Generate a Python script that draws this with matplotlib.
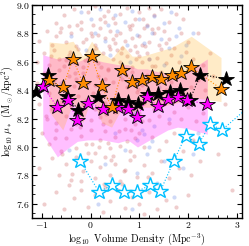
import numpy as np
import matplotlib
matplotlib.use("Agg")
import matplotlib.pyplot as plt
from matplotlib.ticker import MultipleLocator

plt.rcParams['font.family'] = 'serif'
plt.rcParams['font.serif'] = ['cmr10']
plt.rcParams['mathtext.fontset'] = 'cm'
plt.rcParams['axes.formatter.use_mathtext'] = True
plt.rcParams['axes.unicode_minus'] = False
plt.rcParams['font.size'] = 7.5

# 背景散点
red_x = [-0.55, -0.35, -0.2, -0.05, 0.1, 0.2, 0.35, 0.5, 0.6, 0.75, 0.9, 1.0, 1.15, 1.3, 1.45, 1.6, 1.75, 1.9, 0.05, 0.45, 0.85, 1.2, -0.7, 0.3,
         -1.05, -0.9, -0.8, -0.7, -0.6, -0.5, -0.4, -0.3, -0.2, -0.1, 0.0, 0.1, 0.2, 0.3, 0.4, 0.5, 0.6, 0.7, 0.8, 0.9, 1.0, 1.1, 1.2, 1.3, 1.4, 1.5, 1.6, 1.7, 1.85, 2.0, 2.2, -0.45, 0.15, 0.65, 1.05, -0.15, 0.45, 0.85, 1.25, 1.55,
         -1.1, -0.95, -0.85, -0.75, -0.65, -0.55, -0.45, -0.35, -0.25, -0.15, -0.05, 0.05, 0.15, 0.25, 0.35, 0.45, 0.55, 0.65, 0.75, 0.85, 0.95, 1.05, 1.15, 1.25, 1.35, 1.45, 1.55, 1.65, 1.8, 1.95, 2.1, 2.3, 2.45, 0.1, 0.6, 1.0, -0.5, 0.4, 0.8, 1.2,
         -1.1, -0.95, -0.85, -0.75, -0.65, -0.55, -0.45, -0.35, -0.25, -0.15, -0.05, 0.05, 0.15, 0.25, 0.35, 0.45, 0.55, 0.65, 0.75, 0.85, 0.95, 1.05, 1.15, 1.25, 1.35, 1.45, 1.55, 1.65, 1.75, 1.9, 2.05, 2.2, 2.35, 0.3, 0.7, 1.1, -0.3, 0.9,
         -1.05, -0.9, -0.8, -0.7, -0.6, -0.5, -0.4, -0.3, -0.2, -0.1, 0.0, 0.1, 0.2, 0.3, 0.4, 0.5, 0.6, 0.7, 0.8, 0.9, 1.0, 1.1, 1.2, 1.3, 1.4, 1.5, 1.6, 1.7, 1.85, 2.0, 2.15, 2.3, 0.25, 0.65, 1.05, -0.15,
         -1.0, -0.85, -0.7, -0.6, -0.5, -0.4, -0.3, -0.2, -0.1, 0.0, 0.1, 0.2, 0.3, 0.4, 0.5, 0.6, 0.7, 0.8, 0.9, 1.0, 1.1, 1.25, 1.4, 1.55, 1.7, 1.9, 2.1, 0.35, -0.05, 0.75,
         -1.05, -0.8, -0.65, -0.5, -0.4, -0.3, -0.15, 0.0, 0.1, 0.2, 0.3, 0.4, 0.5, 0.6, 0.7, 0.8, 0.95, 1.1, 1.25, 1.45, 1.6, 1.8, 2.05, 2.25, -0.2, 0.45,
         -0.95, -0.7, -0.55, -0.35, -0.2, -0.05, 0.1, 0.25, 0.4, 0.55, 0.7, 0.85, 1.0, 1.2, 1.35, 1.55, 1.75, 2.0, 0.3, -0.45, 0.65, 1.1,
         2.5, 2.6, 2.75, 2.9,
         -0.62, -0.28, 0.02, 0.27, 0.52, 0.78, 1.08, 1.38, -0.42, 0.12, 0.62, 1.12, -0.82, -0.12, 0.38, 0.92, -0.32, 0.22, 0.72, 1.32,
         -0.52, 0.08, 0.48, 0.98, -0.92, -0.22, 0.32, 0.82, 1.42, -0.72, 0.18, 0.58, -0.58, 0.02, 0.42, 0.88, -0.38, 0.28, 0.68, 1.18]
red_y = [8.93, 8.97, 8.88, 8.95, 8.99, 8.9, 8.96, 8.87, 8.94, 8.98, 8.9, 8.95, 8.86, 8.93, 8.97, 8.88, 8.94, 8.9, 8.86, 8.91, 8.86, 8.98, 8.87, 8.88,
         8.75, 8.82, 8.72, 8.78, 8.84, 8.74, 8.8, 8.71, 8.83, 8.76, 8.8, 8.72, 8.84, 8.77, 8.82, 8.73, 8.8, 8.75, 8.83, 8.71, 8.78, 8.84, 8.74, 8.8, 8.72, 8.82, 8.76, 8.7, 8.8, 8.74, 8.8, 8.85, 8.79, 8.7, 8.72, 8.74, 8.76, 8.77, 8.83, 8.73,
         8.6, 8.66, 8.58, 8.68, 8.62, 8.57, 8.65, 8.6, 8.69, 8.56, 8.63, 8.68, 8.59, 8.66, 8.55, 8.62, 8.68, 8.58, 8.64, 8.56, 8.67, 8.6, 8.66, 8.57, 8.63, 8.69, 8.59, 8.65, 8.6, 8.67, 8.62, 8.58, 8.66, 8.61, 8.6, 8.64, 8.61, 8.69, 8.68, 8.62,
         8.45, 8.52, 8.38, 8.47, 8.54, 8.4, 8.5, 8.43, 8.36, 8.52, 8.45, 8.38, 8.5, 8.41, 8.54, 8.46, 8.37, 8.48, 8.42, 8.53, 8.39, 8.44, 8.51, 8.37, 8.45, 8.53, 8.4, 8.46, 8.36, 8.5, 8.42, 8.47, 8.4, 8.48, 8.55, 8.36, 8.48, 8.47,
         8.3, 8.2, 8.27, 8.17, 8.32, 8.22, 8.29, 8.16, 8.25, 8.33, 8.19, 8.27, 8.21, 8.31, 8.18, 8.25, 8.32, 8.2, 8.28, 8.16, 8.24, 8.31, 8.19, 8.27, 8.22, 8.3, 8.17, 8.25, 8.2, 8.28, 8.18, 8.24, 8.16, 8.26, 8.18, 8.3,
         8.1, 8.02, 8.12, 7.97, 8.06, 8.13, 7.99, 8.08, 8.02, 8.12, 7.96, 8.05, 8.11, 7.99, 8.07, 8.01, 8.13, 7.97, 8.06, 8.1, 8.0, 8.07, 7.98, 8.04, 8.1, 7.97, 8.05, 8.03, 7.96, 8.04,
         7.85, 7.92, 7.8, 7.88, 7.77, 7.93, 7.83, 7.9, 7.78, 7.86, 7.93, 7.8, 7.88, 7.76, 7.84, 7.91, 7.79, 7.87, 7.82, 7.9, 7.78, 7.85, 7.8, 7.9, 7.76, 7.94,
         7.6, 7.68, 7.56, 7.64, 7.7, 7.58, 7.66, 7.54, 7.62, 7.7, 7.57, 7.65, 7.6, 7.68, 7.56, 7.63, 7.58, 7.66, 7.72, 7.73, 7.74, 7.53,
         8.5, 7.95, 8.3, 7.7,
         8.81, 8.86, 8.78, 8.92, 8.79, 8.85, 8.9, 8.84, 8.67, 8.7, 8.66, 8.71, 8.64, 8.61, 8.71, 8.62, 8.52, 8.56, 8.51, 8.57,
         8.34, 8.44, 8.33, 8.41, 8.22, 8.14, 8.23, 8.12, 8.34, 8.06, 8.0, 8.11, 7.95, 8.02, 7.91, 7.94, 7.81, 7.74, 7.83, 7.79]

blue_x = [-0.2, 0.0, 0.2, 0.35, 0.5, 0.7, 0.85, 1.0, 1.15, 1.3, 1.5, 1.65, 1.8, 0.1, 0.3, 0.55, 0.75, 0.95, 1.1, 1.25, 1.45, 1.6, 1.75, 1.95, 2.1,
          -0.4, -0.1, 0.4, 0.8, 1.2, 1.5, 1.85, 0.6, 1.0, 1.4, 0.2, 0.9, 1.3, 0.5, 1.6, 0.7, 1.15, 1.5, 0.3, 0.95, 1.35, 0.55, 1.7, 1.9, 2.1,
          -0.3, -0.6, 0.15, 0.85, 2.2, -0.45, 0.95, 1.05, 1.2, 1.1, 1.25]
blue_y = [8.95, 8.9, 8.97, 8.86, 8.93, 8.88, 8.96, 8.9, 8.85, 8.92, 8.87, 8.95, 8.84, 8.8, 8.75, 8.82, 8.72, 8.79, 8.73, 8.8, 8.76, 8.7, 8.78, 8.72, 8.8,
          8.78, 8.68, 8.65, 8.6, 8.62, 8.58, 8.64, 8.5, 8.45, 8.42, 8.35, 8.25, 8.15, 8.1, 8.2, 7.98, 7.95, 7.9, 7.88, 7.82, 7.75, 7.7, 7.65, 7.85, 7.95,
          8.2, 8.45, 7.6, 7.56, 8.1, 7.98, 8.05, 8.12, 8.0, 8.09, 8.04]

# 黑色星号
black_x = [-1.12, -0.88, -0.48, -0.25, 0.16, 0.56, 0.77, 0.98, 1.18, 1.38, 1.62, 1.83, 2.03, 2.25, 2.78]
black_y = [8.39, 8.51, 8.36, 8.26, 8.35, 8.33, 8.32, 8.30, 8.37, 8.37, 8.39, 8.40, 8.33, 8.51, 8.48]

# 橙色星号及其范围
orange_x = [-0.85, -0.57, -0.36, -0.16, 0.02, 0.23, 0.43, 0.65, 0.85, 1.05, 1.26, 1.45, 1.66, 1.86, 2.06, 2.67]
orange_y = [8.47, 8.42, 8.62, 8.45, 8.64, 8.43, 8.28, 8.54, 8.46, 8.47, 8.49, 8.48, 8.51, 8.52, 8.56, 8.41]
orange_hi = [8.74, 8.73, 8.745, 8.64, 8.745, 8.66, 8.62, 8.72, 8.64, 8.64, 8.66, 8.68, 8.70, 8.74, 8.78, 8.63]
orange_lo = [8.25, 8.12, 8.31, 8.17, 8.35, 8.17, 8.14, 8.28, 8.24, 8.28, 8.28, 8.29, 8.30, 8.32, 8.35, 8.32]

# 品红星号及其范围
mag_x = [-0.98, -0.68, -0.47, -0.27, -0.06, 0.25, 0.56, 0.76, 0.96, 1.16, 1.37, 1.58, 1.78, 1.98, 2.39]
mag_y = [8.43, 8.28, 8.33, 8.19, 8.31, 8.27, 8.28, 8.27, 8.21, 8.35, 8.29, 8.34, 8.35, 8.33, 8.30]
mag_hi = [8.65, 8.62, 8.64, 8.60, 8.63, 8.60, 8.58, 8.58, 8.55, 8.55, 8.53, 8.52, 8.52, 8.53, 8.62]
mag_lo = [8.09, 7.93, 7.99, 8.04, 8.05, 8.05, 8.03, 8.05, 8.00, 8.04, 8.08, 8.12, 8.14, 8.13, 8.09]

# 青色空心星号
cyan_x = [-0.21, 0.17, 0.43, 0.68, 0.94, 1.21, 1.43, 1.70, 1.95, 2.21, 2.45, 2.69, 3.5]
cyan_y = [7.90, 7.685, 7.73, 7.68, 7.685, 7.73, 7.69, 7.90, 8.08, 8.02, 8.16, 8.12, 8.36]

fig = plt.figure(figsize=(2.49, 2.46), dpi=100)
ax = fig.add_axes([32 / 249, 28 / 246, 210 / 249, 213 / 246])

ax.scatter(red_x, red_y, s=9, color='indianred', alpha=0.3, lw=0, zorder=1)
ax.scatter(blue_x, blue_y, s=9, color='royalblue', alpha=0.25, lw=0, zorder=1)

ax.fill_between(mag_x, mag_lo, mag_hi, color='magenta', alpha=0.25, lw=0, zorder=2)
ax.fill_between(orange_x, orange_lo, orange_hi, color='orange', alpha=0.22, lw=0, zorder=2)

ax.plot(black_x, black_y, ':', color='k', lw=0.8, zorder=3)
ax.plot(black_x, black_y, '*', ms=11.5, mfc='k', mec='k', mew=0.6, ls='none', zorder=4)
ax.plot(mag_x, mag_y, ':', color='magenta', lw=0.8, zorder=3)
ax.plot(mag_x, mag_y, '*', ms=11.5, mfc='magenta', mec='k', mew=0.6, ls='none', zorder=5)
ax.plot(orange_x, orange_y, ':', color='darkorange', lw=0.8, zorder=3)
ax.plot(orange_x, orange_y, '*', ms=11.5, mfc='darkorange', mec='k', mew=0.6, ls='none', zorder=6)
ax.plot(cyan_x, cyan_y, ':', color='deepskyblue', lw=0.8, zorder=3)
ax.plot(cyan_x, cyan_y, '*', ms=11.5, mfc='white', mec='deepskyblue', mew=1.0, ls='none', zorder=6)

ax.set_xlim(-1.2, 3.1)
ax.set_ylim(7.5, 9.0)
ax.xaxis.set_major_locator(MultipleLocator(1))
ax.xaxis.set_minor_locator(MultipleLocator(0.2))
ax.yaxis.set_major_locator(MultipleLocator(0.2))
ax.yaxis.set_minor_locator(MultipleLocator(0.2 / 3))
ax.tick_params(which='both', direction='in', top=True, right=True, pad=1.5, labelsize=7)
ax.tick_params(which='major', length=3.5, width=0.8)
ax.tick_params(which='minor', length=2, width=0.6)
for sp in ax.spines.values():
    sp.set_linewidth(1.0)

ax.set_xlabel(r'$\log_{10}$ Volume Density (Mpc$^{-3}$)', fontsize=7.2)
ax.set_ylabel(r'$\log_{10}\,\mu_*$ (M$_\odot$/kpc$^2$)', fontsize=7.2)
ax.xaxis.set_label_coords(0.5, -0.061)
ax.yaxis.set_label_coords(-0.079, 0.5)

fig.savefig('out.png', dpi=100)
